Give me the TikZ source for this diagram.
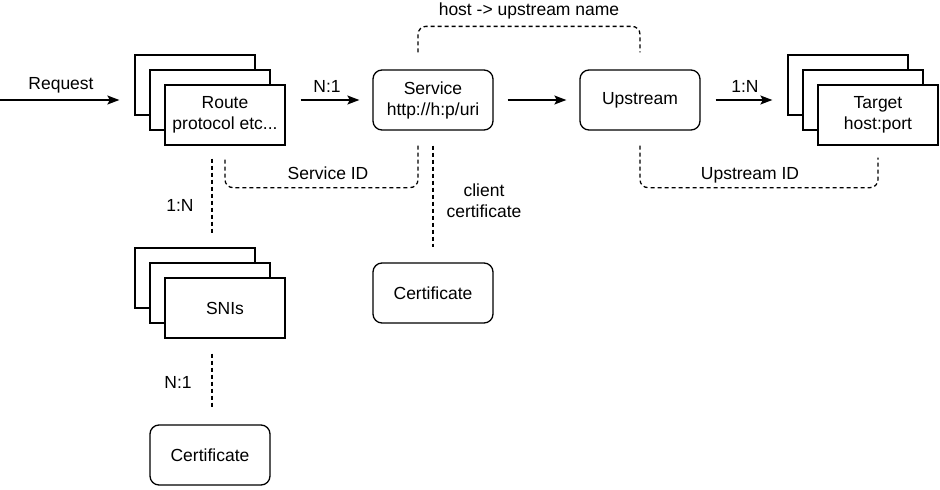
\documentclass[tikz,border=0pt]{standalone}
\usepackage{fontspec}
\setmainfont{Liberation Sans}
\usetikzlibrary{calc,arrows.meta}
\begin{document}
\begin{tikzpicture}[x=1pt,y=-1pt,
  font=\fontsize{17.5}{21}\selectfont,
  sqbox/.style={draw,line width=1.3pt,fill=white,minimum width=120pt,minimum height=60pt,inner sep=0pt,align=center},
  rbox/.style={sqbox,rounded corners=9pt},
  arr/.style={line width=1.3pt,-{Stealth[length=12pt,width=9pt,inset=2.5pt]}},
  dsh/.style={line width=1.3pt,dash pattern=on 4pt off 3pt,rounded corners=8pt},
  lbl/.style={inner sep=0pt,align=center}]
\useasboundingbox (0,0) rectangle (940,490);
% Route stack
\node[sqbox] (r3) at (195,85) {};
\node[sqbox] (r2) at (210,100) {};
\node[sqbox] (route) at (225,115) {Route\\protocol etc...};
% Service, Upstream
\node[rbox] (svc) at (433,100) {Service\\http://h:p/uri};
\node[rbox] (ups) at (640,100) {Upstream};
% Target stack
\node[sqbox] (t3) at (848,85) {};
\node[sqbox] (t2) at (863,100) {};
\node[sqbox] (tgt) at (878,115) {Target\\host:port};
% SNIs stack
\node[sqbox] (s3) at (195,278) {};
\node[sqbox] (s2) at (210,293) {};
\node[sqbox] (sni) at (225,308) {SNIs};
% Certificates
\node[rbox] (c1) at (433,293) {Certificate};
\node[rbox] (c2) at (210,455) {Certificate};
% Arrows
\coordinate (reqstart) at (0,100);
\draw[arr] (reqstart) -- ([xshift=-30pt]r2.west);
\draw[arr] ($(route.east |- svc.west)+(15,0)$) -- ($(svc.west)+(-13,0)$);
\draw[arr] ($(svc.east)+(14,0)$) -- ($(ups.west)+(-13,0)$);
\draw[arr] ($(ups.east)+(15,0)$) -- ([xshift=-30pt]t2.west);
% Dashed relations
\draw[dsh] ($(svc.north)+(-15,-17)$) -- ++(0,-26) -| ($(ups.north)+(0,-17)$);
\draw[dsh] ($(svc.south)+(-15,15)$) -- ++(0,42) -| ($(route.south)+(0,13)$);
\draw[dsh] ($(route.south)+(-13,13)$) -- ($(route.south |- s3.north)+(-13,-13)$);
\draw[dsh] ($(svc.south)+(0,15)$) -- ($(c1.north)+(0,-15)$);
\draw[dsh] ($(sni.south)+(-13,15)$) -- ($(sni.south |- c2.north)+(-13,-15)$);
\draw[dsh] ($(ups.south)+(0,15)$) -- ++(0,42) -| ($(tgt.south)+(0,12)$);
% Labels
\node[lbl] (lreq) at (61,85) {Request};
\node[lbl] (ln1) at (327,86) {N:1};
\node[lbl] (l1n) at (745,86) {1:N};
\node[lbl] (lhost) at (529,11) {host -> upstream name};
\node[lbl] (lsid) at (328,173) {Service ID};
\node[lbl] (l1nb) at (180,205) {1:N};
\node[lbl] (lcc) at (484,201) {client\\certificate};
\node[lbl] (ln1b) at (178,382) {N:1};
\node[lbl] (luid) at (750,175) {Upstream ID};
\end{tikzpicture}
\end{document}
